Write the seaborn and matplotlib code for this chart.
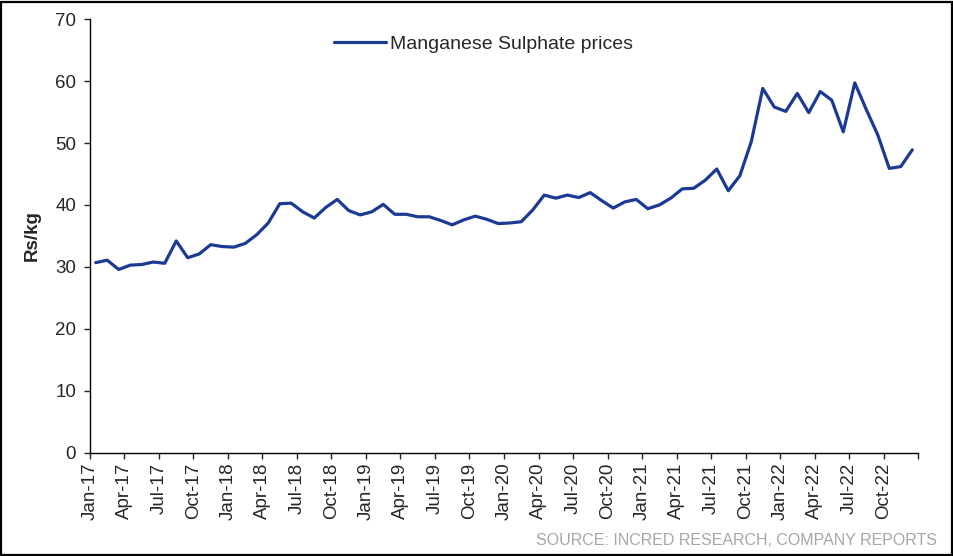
import numpy as np
import pandas as pd
import matplotlib
matplotlib.use('Agg')
import matplotlib.pyplot as plt
from matplotlib.patches import Rectangle
import seaborn as sns

# monthly Manganese Sulphate prices (Rs/kg), Jan-17 .. Dec-22
months = pd.date_range('2017-01-01', periods=72, freq='MS')
prices = [
    30.7, 31.1, 29.6, 30.3, 30.4, 30.8, 30.6, 34.2, 31.5, 32.1, 33.6, 33.3,
    33.2, 33.8, 35.2, 37.1, 40.2, 40.3, 38.9, 37.9, 39.6, 40.9, 39.1, 38.4,
    38.9, 40.1, 38.5, 38.5, 38.1, 38.1, 37.5, 36.8, 37.6, 38.2, 37.7, 37.0,
    37.1, 37.3, 39.2, 41.6, 41.1, 41.6, 41.2, 42.0, 40.7, 39.5, 40.5, 40.9,
    39.4, 40.0, 41.1, 42.6, 42.7, 44.0, 45.8, 42.3, 44.7, 50.2, 58.8, 55.8,
    55.1, 58.0, 54.9, 58.3, 56.9, 51.8, 59.7, 55.4, 51.3, 45.9, 46.2, 48.9,
]
series_name = 'Manganese Sulphate prices'
y_ticks = [0, 10, 20, 30, 40, 50, 60, 70]
x_tick_labels = [m.strftime('%b-%y') for m in months[::3]] + ['']
source_note = 'SOURCE: INCRED RESEARCH, COMPANY REPORTS'

sns.set_style('white')
plt.rcParams['font.family'] = ['Liberation Sans', 'DejaVu Sans']

df = pd.DataFrame({'pos': np.arange(len(prices)) + 0.5, 'price': prices,
                   'series': series_name})

fig = plt.figure(figsize=(9.54, 5.56), dpi=100)
ax = fig.add_axes([0.0943, 0.1853, 0.868, 0.7805])

sns.lineplot(data=df, x='pos', y='price', hue='series', palette=['#1b3a94'],
             linewidth=2.3, ax=ax)
ax.lines[0].set_solid_joinstyle('round')

ax.set_xlim(0, 72)
ax.set_ylim(0, 70)
ax.set_yticks(y_ticks)
ax.set_xticks(np.arange(0, 73, 3))
ax.set_xticklabels(x_tick_labels, rotation=90, fontsize=13.5)
ax.tick_params(axis='y', labelsize=13.5, direction='out', length=4, width=1,
               left=True, pad=6)
ax.tick_params(axis='x', direction='out', length=4, width=1, bottom=True, pad=3)

for s in ['top', 'right']:
    ax.spines[s].set_visible(False)
for s in ['left', 'bottom']:
    ax.spines[s].set_color('black')
    ax.spines[s].set_linewidth(1)

ax.set_xlabel('')
ax.set_ylabel('Rs/kg', fontsize=13.5, fontweight='bold', labelpad=10)

leg = ax.legend(loc='center', bbox_to_anchor=(0.475, 0.942), frameon=False,
                fontsize=14, handlelength=2.7, handletextpad=0.2)

fig.text(0.982, 0.028, source_note, ha='right', va='center', fontsize=11.5,
         color='#a6a6a6')

# outer frame round the whole picture
fig.patches.append(Rectangle((0.001, 0.002), 0.997, 0.995, transform=fig.transFigure,
                             fill=False, edgecolor='black', linewidth=1.6))

fig.savefig('out.png', dpi=100)
